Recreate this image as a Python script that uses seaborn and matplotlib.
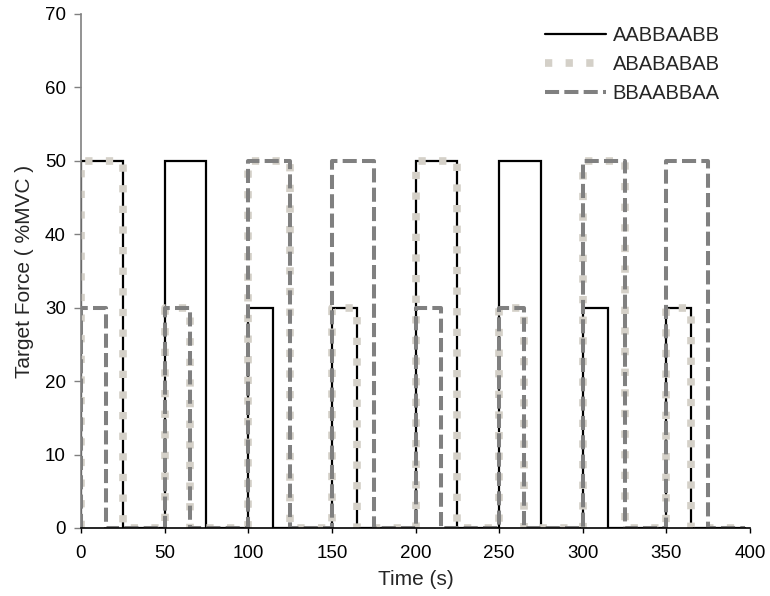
import numpy as np
import pandas as pd
import matplotlib
matplotlib.use("Agg")
import matplotlib.pyplot as plt
import seaborn as sns

# --- data ---
block_starts = [0, 50, 100, 150, 200, 250, 300, 350]
aabbaabb_levels = [50, 50, 30, 30, 50, 50, 30, 30]
abababab_levels = [50, 30, 50, 30, 50, 30, 50, 30]
bbaabbaa_levels = [30, 30, 50, 50, 30, 30, 50, 50]
durations = {50: 25, 30: 15}
t_end = 397
x_ticks = [0, 50, 100, 150, 200, 250, 300, 350, 400]
y_ticks = [0, 10, 20, 30, 40, 50, 60, 70]


def step_trace(levels):
    xs, ys = [], []
    for s, lv in zip(block_starts, levels):
        e = s + durations[lv]
        xs += [s, s, e, e]
        ys += [0, lv, lv, 0]
    xs.append(t_end)
    ys.append(0)
    return np.array(xs, float), np.array(ys, float)


sns.set_theme(style="ticks")
plt.rcParams['font.family'] = ['Liberation Sans', 'DejaVu Sans']

W, H = 770, 596
fig = plt.figure(figsize=(7.7, 5.96), dpi=100)
ax = fig.add_axes([81 / W, 1 - 528 / H, (750 - 81) / W, (528 - 14) / H])

series = [
    ("AABBAABB", aabbaabb_levels, dict(color="black", lw=1.6, ls="-")),
    ("ABABABAB", abababab_levels, dict(color="#D4D0C8", lw=5.5, ls=(0, (0.95, 1.75)))),
    ("BBAABBAA", bbaabbaa_levels, dict(color="#808080", lw=2.9, ls=(0, (3.5, 1.3)))),
]
for name, lv, st in series:
    x, y = step_trace(lv)
    df = pd.DataFrame({"t": x, "f": y})
    sns.lineplot(data=df, x="t", y="f", ax=ax, sort=False, estimator=None,
                 color=st["color"], linewidth=st["lw"], linestyle=st["ls"],
                 label=name, dash_capstyle="butt", solid_joinstyle="miter")

ax.set_xlim(0, 400)
ax.set_ylim(0, 70)
ax.set_xticks(x_ticks)
ax.set_yticks(y_ticks)
ax.set_xlabel("Time (s)", fontsize=15, labelpad=6)
ax.set_ylabel("Target Force ( %MVC )", fontsize=15, labelpad=8)
ax.tick_params(axis="x", labelsize=13.5, length=3.5, width=1, pad=8.5,
               direction="out", colors="black")
ax.tick_params(axis="y", labelsize=13.5, length=5, width=1, pad=6,
               direction="out", colors="#808080", labelcolor="black")
for s in ["top", "right"]:
    ax.spines[s].set_visible(False)
ax.spines["left"].set_color("#808080")
ax.spines["bottom"].set_color("black")
ax.spines["left"].set_linewidth(1.2)
ax.spines["bottom"].set_linewidth(1.2)

leg = ax.legend(loc="upper left", frameon=False, fontsize=14.5,
                handlelength=3.05, handletextpad=0.3, labelspacing=0.5,
                borderpad=0, borderaxespad=0,
                bbox_to_anchor=(545 / W, 1 - 26 / H), bbox_transform=fig.transFigure)

fig.savefig("out.png", dpi=100)
